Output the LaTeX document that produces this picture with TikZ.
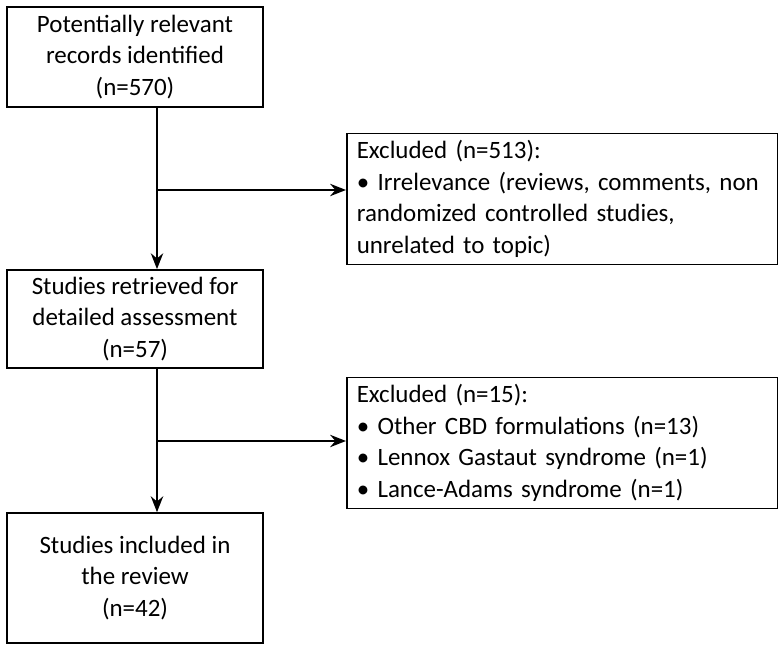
\documentclass[tikz,border=0pt]{standalone}
\usepackage{fontspec}
\setmainfont{Carlito}
\usetikzlibrary{positioning,arrows.meta}

\tikzset{
  flowbox/.style={draw, line width=0.9pt, inner sep=4pt, font=\fontsize{14.2}{18}\selectfont},
  exclbox/.style={flowbox, text width=8.45cm, inner xsep=0.08cm, align=left, anchor=west},
  flowarrow/.style={-{Stealth[length=9pt,width=7pt]}, line width=1.2pt}
}

\begin{document}
\begin{tikzpicture}
  \useasboundingbox (0,0) rectangle (15.66,13.02);

  \node[flowbox, minimum width=5.12cm, minimum height=2cm, align=center] at (2.7,11.88) (records)
    { Potentially relevant\\records identified\\(n=570) };
  \node[exclbox, minimum height=2.24cm] at (6.92,9.04) (excl1)
    { \hspace*{0.12cm}Excluded (n=513):\\\hspace*{0.12cm}\textbullet{} Irrelevance (reviews, comments, non\\\hspace*{0.12cm}randomized controlled studies,\\\hspace*{0.12cm}unrelated to topic) };
  \node[flowbox, minimum width=5.12cm, minimum height=1.76cm, align=center] at (2.7,6.64) (retrieved)
    { Studies retrieved for\\detailed assessment\\(n=57) };
  \node[exclbox, minimum height=1.92cm] at (6.92,4.16) (excl2)
    { \hspace*{0.12cm}Excluded (n=15):\\\hspace*{0.12cm}\textbullet{} Other CBD formulations (n=13)\\\hspace*{0.12cm}\textbullet{} Lennox Gastaut syndrome (n=1)\\\hspace*{0.12cm}\textbullet{} Lance-Adams syndrome (n=1) };
  \node[flowbox, minimum width=5.12cm, minimum height=2.6cm, align=center] at (2.7,1.46) (included)
    { Studies included in\\the review\\(n=42) };

  \coordinate (j1) at (3.14,9.22);
  \coordinate (j2) at (3.14,4.2);

  \draw[flowarrow] (records.south -| j1) -- (retrieved.north -| j1);
  \draw[flowarrow] (j1) -- (j1 -| excl1.west);
  \draw[flowarrow] (retrieved.south -| j2) -- (included.north -| j2);
  \draw[flowarrow] (j2) -- (j2 -| excl2.west);
\end{tikzpicture}
\end{document}
